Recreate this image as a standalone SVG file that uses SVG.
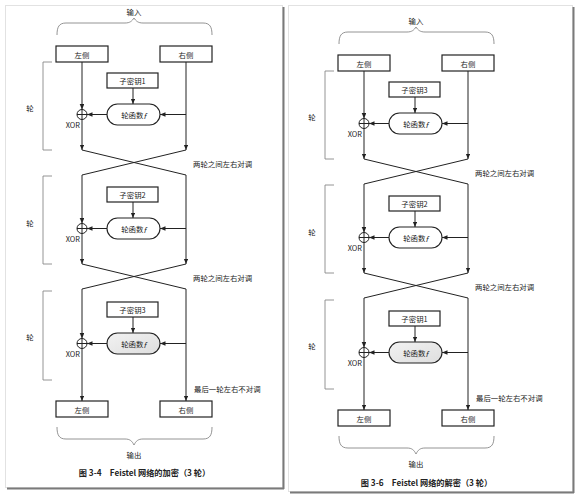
<svg xmlns="http://www.w3.org/2000/svg" width="580" height="498" viewBox="0 0 580 498">
<style>
.t{font-family:"Noto Sans CJK SC","Noto Sans",sans-serif;font-size:7.4px;fill:#222;text-anchor:middle;dominant-baseline:central}
.s{text-anchor:start}
.e{text-anchor:end}
.cap{font-size:8.2px;font-weight:bold}
.box{fill:#fff;stroke:#222;stroke-width:1.2}
.pill{fill:#fff;stroke:#222;stroke-width:1.1}
.shade{fill:url(#shade)}
.ln{fill:none;stroke:#222;stroke-width:1}
.ar{marker-end:url(#ah)}
.br{fill:none;stroke:#888;stroke-width:0.9}
.xor{fill:#fff;stroke:#222;stroke-width:1}
</style>
<defs>
<marker id="ah" markerUnits="userSpaceOnUse" markerWidth="6" markerHeight="5" refX="5.5" refY="2.3" orient="auto">
<path d="M0,0 L5.5,2.3 L0,4.6 z" fill="#222"/>
</marker>
<linearGradient id="shade" x1="0" y1="0" x2="1" y2="1">
<stop offset="0" stop-color="#f2f2f2"/>
<stop offset="1" stop-color="#dedede"/>
</linearGradient>
</defs>
<rect width="580" height="498" fill="#fff"/>
<g id="pages">
<rect x="5.5" y="5.5" width="277" height="482" fill="#fff" stroke="#e2e2e2" stroke-width="1"/>
<path d="M283.5,7 V489 M7,488.5 H284" stroke="#7a7a7a" stroke-width="2" fill="none"/>
<rect x="288.5" y="5.5" width="284" height="486" fill="#fff" stroke="#e2e2e2" stroke-width="1"/>
<path d="M573.5,7 V493 M290,492.5 H574" stroke="#7a7a7a" stroke-width="2" fill="none"/>
</g>

<g id="panel-enc">
<g id="enc-input"><text class="t" x="134" y="11">输入</text><path class="br" d="M57,35 C57,27 59,23 66,23 L125,23 C130,23 132,21 134,18 C136,21 138,23 143,23 L203,23 C210,23 212,27 212,35"/></g>
<g id="enc-L0"><rect class="box" x="56" y="46" width="52" height="16"/><text class="t" x="82" y="54">左侧</text></g>
<g id="enc-R0"><rect class="box" x="160" y="46" width="52" height="16"/><text class="t" x="186" y="54">右侧</text></g>

<g id="enc-round1"><path class="br" d="M52,62 H43 V150 H52"/><text class="t" x="30" y="107">轮</text></g>
<g id="enc-key1"><rect class="box" x="107" y="73" width="51" height="15"/><text class="t" x="132.5" y="80.5">子密钥1</text></g>
<g id="enc-f1"><rect class="pill" x="107" y="104" width="53" height="21" rx="10.5"/><text class="t" x="133.5" y="114.5">轮函数<tspan font-style="italic">f</tspan></text></g>
<g id="enc-xor1"><circle class="xor" cx="82" cy="114.5" r="5"/><path class="ln" d="M77,114.5 H87 M82,109.5 V119.5"/><text class="t e" x="80" y="124.5">XOR</text></g>
<g id="enc-swap1"><text class="t s" x="193" y="163">两轮之间左右对调</text></g>

<g id="enc-round2"><path class="br" d="M52,176 H43 V264 H52"/><text class="t" x="30" y="222">轮</text></g>
<g id="enc-key2"><rect class="box" x="107" y="187" width="51" height="15"/><text class="t" x="132.5" y="194.5">子密钥2</text></g>
<g id="enc-f2"><rect class="pill" x="107" y="218" width="53" height="21" rx="10.5"/><text class="t" x="133.5" y="228.5">轮函数<tspan font-style="italic">f</tspan></text></g>
<g id="enc-xor2"><circle class="xor" cx="82" cy="228.5" r="5"/><path class="ln" d="M77,228.5 H87 M82,223.5 V233.5"/><text class="t e" x="80" y="238.5">XOR</text></g>
<g id="enc-swap2"><text class="t s" x="193" y="277">两轮之间左右对调</text></g>

<g id="enc-round3"><path class="br" d="M52,291 H43 V380 H52"/><text class="t" x="30" y="336">轮</text></g>
<g id="enc-key3"><rect class="box" x="107" y="302" width="51" height="15"/><text class="t" x="132.5" y="309.5">子密钥3</text></g>
<g id="enc-f3"><rect class="pill shade" x="107" y="333" width="53" height="21" rx="10.5"/><text class="t" x="133.5" y="343.5">轮函数<tspan font-style="italic">f</tspan></text></g>
<g id="enc-xor3"><circle class="xor" cx="82" cy="343.5" r="5"/><path class="ln" d="M77,343.5 H87 M82,338.5 V348.5"/><text class="t e" x="80" y="353.5">XOR</text></g>
<g id="enc-noswap"><text class="t s" x="194" y="388">最后一轮左右不对调</text></g>

<g id="enc-L3"><rect class="box" x="56" y="401" width="52" height="16"/><text class="t" x="82" y="409">左侧</text></g>
<g id="enc-R3"><rect class="box" x="160" y="401" width="52" height="16"/><text class="t" x="186" y="409">右侧</text></g>
<g id="enc-output"><path class="br" d="M57,427 C57,435 59,439 66,439 L125,439 C130,439 132,441 134,445 C136,441 138,439 143,439 L203,439 C210,439 212,435 212,427"/><text class="t" x="134" y="454">输出</text></g>
<g id="enc-caption"><text class="t cap" x="144.5" y="472">图 3-4　Feistel 网络的加密（3 轮）</text></g>

<g id="enc-connectors" class="ln">
<path class="ar" d="M82,62 V109.5"/>
<path class="ar" d="M133,88 V104"/>
<path class="ar" d="M186,62 V150"/>
<path class="ar" d="M186,114.5 H160"/>
<path class="ar" d="M107,114.5 H87"/>
<path class="ar" d="M82,119.5 V150"/>
<path d="M82,150 L186,175 M186,150 L82,175"/>
<path class="ar" d="M82,175 V223.5"/>
<path class="ar" d="M133,202 V218"/>
<path class="ar" d="M186,175 V264"/>
<path class="ar" d="M186,228.5 H160"/>
<path class="ar" d="M107,228.5 H87"/>
<path class="ar" d="M82,233.5 V264"/>
<path d="M82,264 L186,289 M186,264 L82,289"/>
<path class="ar" d="M82,289 V338.5"/>
<path class="ar" d="M133,317 V333"/>
<path class="ar" d="M186,289 V401"/>
<path class="ar" d="M186,343.5 H160"/>
<path class="ar" d="M107,343.5 H87"/>
<path class="ar" d="M82,348.5 V401"/>
</g>
</g>

<g id="panel-dec" transform="translate(282,9)">
<g id="dec-input"><text class="t" x="134" y="11">输入</text><path class="br" d="M57,35 C57,27 59,23 66,23 L125,23 C130,23 132,21 134,18 C136,21 138,23 143,23 L203,23 C210,23 212,27 212,35"/></g>
<g id="dec-L0"><rect class="box" x="56" y="46" width="52" height="16"/><text class="t" x="82" y="54">左侧</text></g>
<g id="dec-R0"><rect class="box" x="160" y="46" width="52" height="16"/><text class="t" x="186" y="54">右侧</text></g>

<g id="dec-round1"><path class="br" d="M52,62 H43 V150 H52"/><text class="t" x="30" y="107">轮</text></g>
<g id="dec-key3"><rect class="box" x="107" y="73" width="51" height="15"/><text class="t" x="132.5" y="80.5">子密钥3</text></g>
<g id="dec-f1"><rect class="pill" x="107" y="104" width="53" height="21" rx="10.5"/><text class="t" x="133.5" y="114.5">轮函数<tspan font-style="italic">f</tspan></text></g>
<g id="dec-xor1"><circle class="xor" cx="82" cy="114.5" r="5"/><path class="ln" d="M77,114.5 H87 M82,109.5 V119.5"/><text class="t e" x="80" y="124.5">XOR</text></g>
<g id="dec-swap1"><text class="t s" x="193" y="163">两轮之间左右对调</text></g>

<g id="dec-round2"><path class="br" d="M52,176 H43 V264 H52"/><text class="t" x="30" y="222">轮</text></g>
<g id="dec-key2"><rect class="box" x="107" y="187" width="51" height="15"/><text class="t" x="132.5" y="194.5">子密钥2</text></g>
<g id="dec-f2"><rect class="pill" x="107" y="218" width="53" height="21" rx="10.5"/><text class="t" x="133.5" y="228.5">轮函数<tspan font-style="italic">f</tspan></text></g>
<g id="dec-xor2"><circle class="xor" cx="82" cy="228.5" r="5"/><path class="ln" d="M77,228.5 H87 M82,223.5 V233.5"/><text class="t e" x="80" y="238.5">XOR</text></g>
<g id="dec-swap2"><text class="t s" x="193" y="277">两轮之间左右对调</text></g>

<g id="dec-round3"><path class="br" d="M52,291 H43 V380 H52"/><text class="t" x="30" y="336">轮</text></g>
<g id="dec-key1"><rect class="box" x="107" y="302" width="51" height="15"/><text class="t" x="132.5" y="309.5">子密钥1</text></g>
<g id="dec-f3"><rect class="pill shade" x="107" y="333" width="53" height="21" rx="10.5"/><text class="t" x="133.5" y="343.5">轮函数<tspan font-style="italic">f</tspan></text></g>
<g id="dec-xor3"><circle class="xor" cx="82" cy="343.5" r="5"/><path class="ln" d="M77,343.5 H87 M82,338.5 V348.5"/><text class="t e" x="80" y="353.5">XOR</text></g>
<g id="dec-noswap"><text class="t s" x="194" y="388">最后一轮左右不对调</text></g>

<g id="dec-L3"><rect class="box" x="56" y="401" width="52" height="16"/><text class="t" x="82" y="409">左侧</text></g>
<g id="dec-R3"><rect class="box" x="160" y="401" width="52" height="16"/><text class="t" x="186" y="409">右侧</text></g>
<g id="dec-output"><path class="br" d="M57,427 C57,435 59,439 66,439 L125,439 C130,439 132,441 134,445 C136,441 138,439 143,439 L203,439 C210,439 212,435 212,427"/><text class="t" x="134" y="454">输出</text></g>
<g id="dec-caption"><text class="t cap" x="144.5" y="473">图 3-6　Feistel 网络的解密（3 轮）</text></g>

<g id="dec-connectors" class="ln">
<path class="ar" d="M82,62 V109.5"/>
<path class="ar" d="M133,88 V104"/>
<path class="ar" d="M186,62 V150"/>
<path class="ar" d="M186,114.5 H160"/>
<path class="ar" d="M107,114.5 H87"/>
<path class="ar" d="M82,119.5 V150"/>
<path d="M82,150 L186,175 M186,150 L82,175"/>
<path class="ar" d="M82,175 V223.5"/>
<path class="ar" d="M133,202 V218"/>
<path class="ar" d="M186,175 V264"/>
<path class="ar" d="M186,228.5 H160"/>
<path class="ar" d="M107,228.5 H87"/>
<path class="ar" d="M82,233.5 V264"/>
<path d="M82,264 L186,289 M186,264 L82,289"/>
<path class="ar" d="M82,289 V338.5"/>
<path class="ar" d="M133,317 V333"/>
<path class="ar" d="M186,289 V401"/>
<path class="ar" d="M186,343.5 H160"/>
<path class="ar" d="M107,343.5 H87"/>
<path class="ar" d="M82,348.5 V401"/>
</g>
</g>
</svg>
